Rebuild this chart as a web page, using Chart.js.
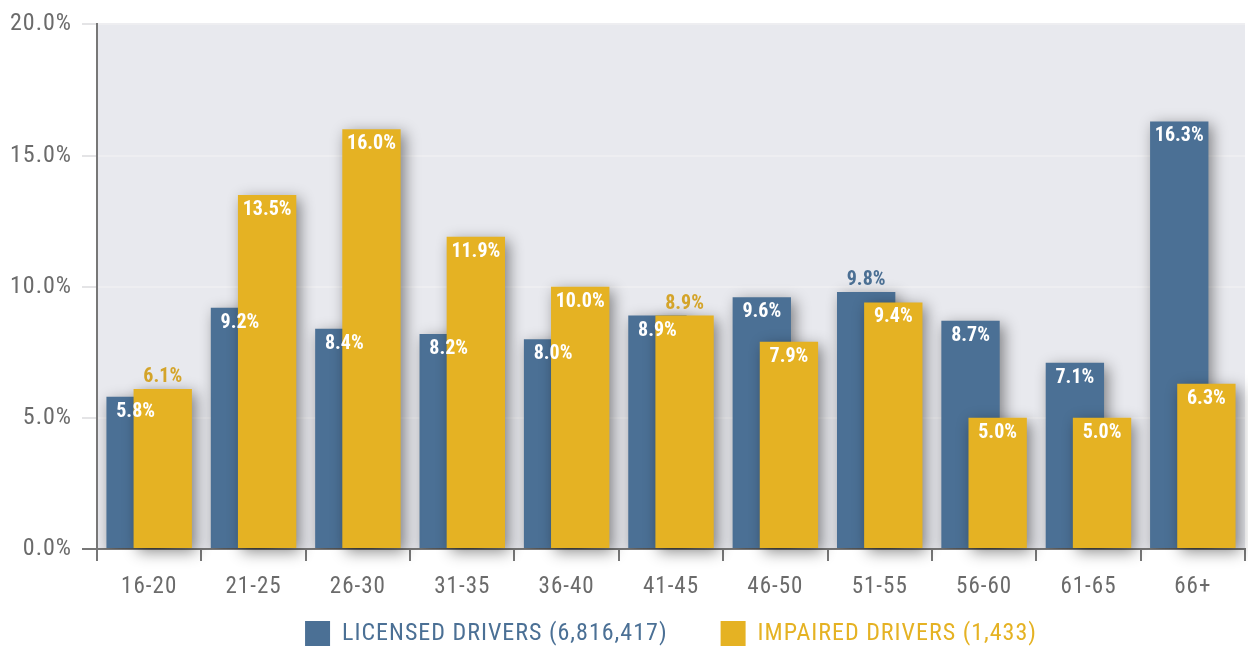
<!DOCTYPE html>
<html>
<head>
<meta charset="utf-8">
<script src="https://cdn.jsdelivr.net/npm/chart.js@4.4.1/dist/chart.umd.min.js"></script>
<style>
  html, body { margin: 0; padding: 0; background: #fff; }
  #wrap { width: 1248px; height: 647px; position: relative; }
</style>
</head>
<body>
<div id="wrap"><canvas id="driversChart"></canvas></div>
<script>
const categories = ['16-20', '21-25', '26-30', '31-35', '36-40', '41-45', '46-50', '51-55', '56-60', '61-65', '66+'];
const licensedDrivers = [5.8, 9.2, 8.4, 8.2, 8.0, 8.9, 9.6, 9.8, 8.7, 7.1, 16.3];
const impairedDrivers = [6.1, 13.5, 16.0, 11.9, 10.0, 8.9, 7.9, 9.4, 5.0, 5.0, 6.3];
const seriesNames = ['LICENSED DRIVERS (6,816,417)', 'IMPAIRED DRIVERS (1,433)'];

const FONT = "'Liberation Sans Narrow', 'Roboto Condensed', 'DejaVu Sans Condensed', 'Liberation Sans', sans-serif";
const BLUE = '#4b7095';
const GOLD = '#e5b223';
const labelOutsideColors = ['#4b6f93', '#d4a42a'];
const AXIS = '#777777';

// plot background, bar shadows, gold bars over blue, value labels
const decorPlugin = {
    id: 'decor',
    beforeLayout(chart) {
        chart.ctx.letterSpacing = '1px';
    },
    beforeDraw(chart) {
        const a = chart.chartArea;
        const ctx = chart.ctx;
        ctx.letterSpacing = '1px';
        ctx.save();
        ctx.fillStyle = '#e8e9ee';
        ctx.fillRect(a.left, a.top, a.right - a.left, a.bottom - a.top);
        ctx.restore();
    },
    beforeDatasetsDraw(chart) {
        const ctx = chart.ctx;
        ctx.save();
        ctx.beginPath();
        ctx.rect(chart.chartArea.left + 1, chart.chartArea.top, chart.chartArea.right, chart.chartArea.bottom - chart.chartArea.top + 20);
        ctx.clip();
        ctx.shadowColor = 'rgba(0, 0, 0, 0.45)';
        ctx.shadowBlur = 14;
        ctx.shadowOffsetX = 4;
        ctx.shadowOffsetY = 4;
    },
    beforeDatasetDraw(chart, args) {
        // gold series is drawn afterwards so it sits on top of the blue one
        if (args.index === 1) return false;
    },
    afterDatasetsDraw(chart) {
        const ctx = chart.ctx;
        chart.getDatasetMeta(1).controller.draw();
        ctx.restore();

        const metas = [chart.getDatasetMeta(0), chart.getDatasetMeta(1)];
        ctx.save();
        ctx.letterSpacing = '0px';
        ctx.font = 'bold 20px ' + FONT;
        ctx.textAlign = 'center';
        categories.forEach((c, i) => {
            const bars = metas.map(m => m.data[i]);
            const vals = [licensedDrivers[i], impairedDrivers[i]];
            // taller label moves above its bar when the two inside labels would collide
            let outside = -1;
            if (Math.abs(bars[0].y - bars[1].y) < 24) {
                outside = vals[0] > vals[1] ? 0 : 1;
            }
            [0, 1].forEach(s => {
                const b = bars[s];
                const txt = vals[s].toFixed(1) + '%';
                if (s === outside) {
                    ctx.fillStyle = labelOutsideColors[s];
                    ctx.textBaseline = 'bottom';
                    ctx.fillText(txt, b.x, b.y - 2);
                } else {
                    ctx.fillStyle = '#ffffff';
                    ctx.textBaseline = 'top';
                    ctx.fillText(txt, b.x, b.y + 5);
                }
            });
        });
        ctx.restore();
    }
};

const ctx = document.getElementById('driversChart');

new Chart(ctx, {
    type: 'bar',
    data: {
        labels: categories,
        datasets: [
            {
                label: seriesNames[0],
                data: licensedDrivers,
                backgroundColor: BLUE,
                categoryPercentage: 0.52,
                barPercentage: 2.15
            },
            {
                label: seriesNames[1],
                data: impairedDrivers,
                backgroundColor: GOLD,
                categoryPercentage: 0.52,
                barPercentage: 2.15
            }
        ]
    },
    options: {
        responsive: true,
        maintainAspectRatio: false,
        animation: false,
        layout: {
            padding: { top: 12, right: 3, left: 0, bottom: -9 }
        },
        scales: {
            x: {
                grid: {
                    offset: true,
                    drawOnChartArea: false,
                    color: AXIS,
                    tickColor: AXIS,
                    tickLength: 12,
                    lineWidth: 2
                },
                border: { color: AXIS, width: 2 },
                ticks: {
                    color: '#6b6b6b',
                    padding: 12,
                    font: { family: FONT, size: 23 }
                },
                afterFit(scale) { scale.height = 71; }
            },
            y: {
                min: 0,
                max: 20,
                grid: {
                    color: '#eeeef1',
                    lineWidth: 2,
                    tickLength: 15,
                    tickColor: (c) => c.tick && c.tick.value === 0 ? AXIS : '#e4e4e6'
                },
                border: { color: AXIS, width: 2 },
                ticks: {
                    stepSize: 5,
                    color: '#6b6b6b',
                    padding: 10,
                    font: { family: FONT, size: 24 },
                    callback: (v) => v.toFixed(1) + '%'
                },
                afterFit(scale) { scale.width = 97; }
            }
        },
        plugins: {
            legend: {
                position: 'bottom',
                fullSize: false,
                labels: {
                    boxWidth: 25,
                    boxHeight: 25,
                    padding: 1,
                    font: { family: FONT, size: 24 },
                    generateLabels(chart) {
                        return chart.data.datasets.map((ds, i) => ({
                            // trailing spaces keep the gap between the two legend entries
                            text: i === 0 ? ds.label + '        ' : ds.label,
                            fillStyle: ds.backgroundColor,
                            strokeStyle: ds.backgroundColor,
                            fontColor: ds.backgroundColor,
                            lineWidth: 0,
                            hidden: false,
                            datasetIndex: i
                        }));
                    }
                }
            },
            tooltip: { enabled: false }
        }
    },
    plugins: [decorPlugin]
});
</script>
</body>
</html>
